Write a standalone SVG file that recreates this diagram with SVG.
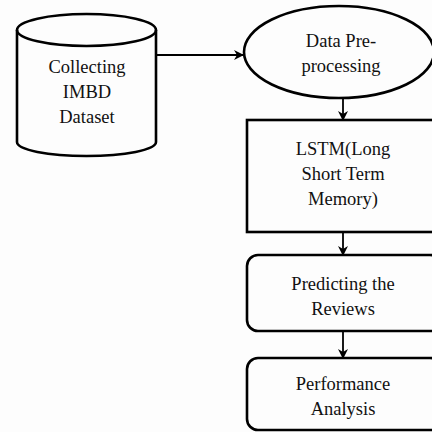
<svg xmlns="http://www.w3.org/2000/svg" width="432" height="432" viewBox="0 0 432 432">
<defs>
<marker id="ah" viewBox="0 0 10 10" refX="9" refY="5" markerWidth="10" markerHeight="10" markerUnits="userSpaceOnUse" orient="auto">
<path d="M0,0 L10,5 L0,10 L3,5 Z" fill="#000"/>
</marker>
</defs>
<style>
.s{fill:none;stroke:#000;stroke-width:2.6}
.t{font-family:'Liberation Serif','DejaVu Serif','Times New Roman',serif;font-size:18.5px;fill:#111;text-anchor:middle}
.c{fill:none;stroke:#000;stroke-width:1.8}
</style>
<rect width="432" height="432" fill="#fdfdfd"/>
<g id="dataset">
<path class="s" d="M17,30 A69.5,16 0 0 1 156,30 L156,142 A69.5,14 0 0 1 17,142 Z"/>
<path class="s" d="M17,30 A69.5,16 0 0 0 156,30"/>
<text class="t" x="87" y="73" font-family="Liberation Serif, serif">Collecting</text>
<text class="t" x="87" y="98" font-family="Liberation Serif, serif">IMBD</text>
<text class="t" x="87" y="123" font-family="Liberation Serif, serif">Dataset</text>
</g>
<g id="preprocessing">
<ellipse class="s" cx="339" cy="52" rx="95" ry="46"/>
<text class="t" x="341" y="47">Data Pre-</text>
<text class="t" x="341" y="72">processing</text>
</g>
<g id="lstm">
<rect class="s" x="247" y="120" width="194" height="112"/>
<text class="t" x="343" y="155">LSTM(Long</text>
<text class="t" x="343" y="180">Short Term</text>
<text class="t" x="343" y="205">Memory)</text>
</g>
<g id="predicting">
<rect class="s" x="247" y="255" width="194" height="76" rx="11"/>
<text class="t" x="343" y="290">Predicting the</text>
<text class="t" x="343" y="315">Reviews</text>
</g>
<g id="performance">
<rect class="s" x="247" y="358" width="194" height="72" rx="11"/>
<text class="t" x="343" y="390">Performance</text>
<text class="t" x="343" y="415">Analysis</text>
</g>
<g id="connectors">
<line class="c" x1="156" y1="55" x2="243" y2="55" marker-end="url(#ah)"/>
<line class="c" x1="343" y1="98" x2="343" y2="120" marker-end="url(#ah)"/>
<line class="c" x1="343" y1="232" x2="343" y2="255" marker-end="url(#ah)"/>
<line class="c" x1="343" y1="331" x2="343" y2="358" marker-end="url(#ah)"/>
</g>
</svg>
